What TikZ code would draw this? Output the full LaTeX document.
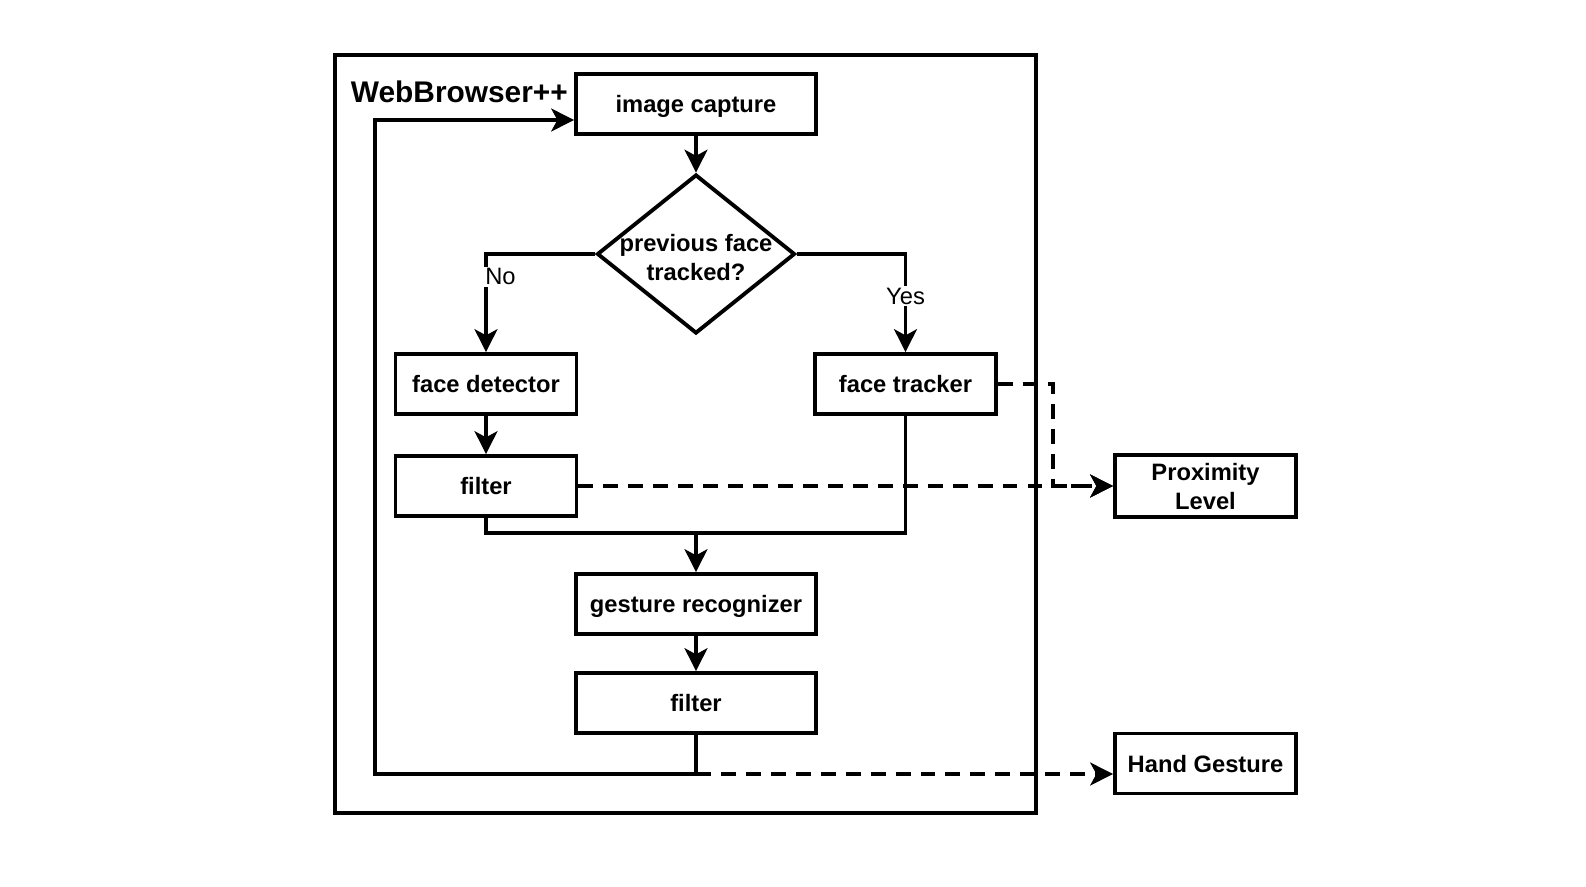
\documentclass[tikz,border=0pt]{standalone}
\usepackage{fontspec}
\setmainfont{Liberation Sans}
\usetikzlibrary{shapes.geometric,arrows.meta}
\begin{document}
\begin{tikzpicture}[x=0.02cm,y=-0.02cm,line width=2.2pt,
    b/.style={draw,font=\fontsize{13.5}{16.5}\selectfont\bfseries,text depth=0pt,
      minimum width=3.62cm,minimum height=1.2cm,align=center,inner sep=0pt},
    wb/.style={b,minimum width=4.8cm},
    cond/.style={draw,diamond,minimum width=3.96cm,minimum height=3.18cm,inner sep=0pt},
    lbl/.style={font=\fontsize{13.5}{16.5}\selectfont,fill=white,inner sep=1pt},
    ar/.style={-{Stealth[length=13pt,width=13pt,inset=3.5pt]}},
    dar/.style={ar,dash pattern=on 8.5pt off 5.7pt}]
\useasboundingbox (0,0) rectangle (1586,886);
% frame
\draw[line width=2.4pt] (335,55) rectangle (1036,813);
\node[anchor=west,font=\fontsize{17}{20}\selectfont\bfseries,inner sep=0pt] (title) at (349,92) {WebBrowser++};
% flow
\node[wb] (cap) at (696,104) {image capture};
\node[cond,label={[align=center,yshift=-2pt,font=\fontsize{13.5}{17}\selectfont\bfseries]center:previous face\\tracked?}] (dec) at (696,254) {};
\node[b] (det) at (486,384) {face detector};
\node[b] (trk) at (905.5,384) {face tracker};
\node[b] (fil1) at (486,486) {filter};
\node[wb] (ges) at (696,604) {gesture recognizer};
\node[wb] (fil2) at (696,703) {filter};
% outputs
\node[b,minimum height=1.24cm] (prox) at (1205.5,486) {Proximity\\Level};
\node[b] (hand) at (1205.5,763.5) {Hand Gesture};
\coordinate (join) at (696,533);
\coordinate (low) at (696,774);
\coordinate (loop) at (375,774);
\coordinate (ret) at (375,120);
\coordinate (bend) at (1053,384);
\draw[ar] (cap) -- (dec);
\draw[ar] (dec.west) -| node[lbl,pos=0.615,anchor=west,xshift=-2.5pt] {No} (det.north);
\draw[ar] (dec.east) -| node[lbl,pos=0.715] {Yes} (trk.north);
\draw[ar] (det) -- (fil1);
\draw (fil1.south) |- (join) -| (trk.south);
\draw[ar] (join) -- (ges);
\draw[ar] (ges) -- (fil2);
\draw[ar] (fil2.south) |- (loop) -- (ret) -- (ret -| cap.west);
\draw[dar] (fil1.east) -- (prox.west);
\draw[dar] (trk.east) -- (bend) |- (prox.west);
\draw[dar] (low) -- (low -| hand.west);
\end{tikzpicture}
\end{document}
